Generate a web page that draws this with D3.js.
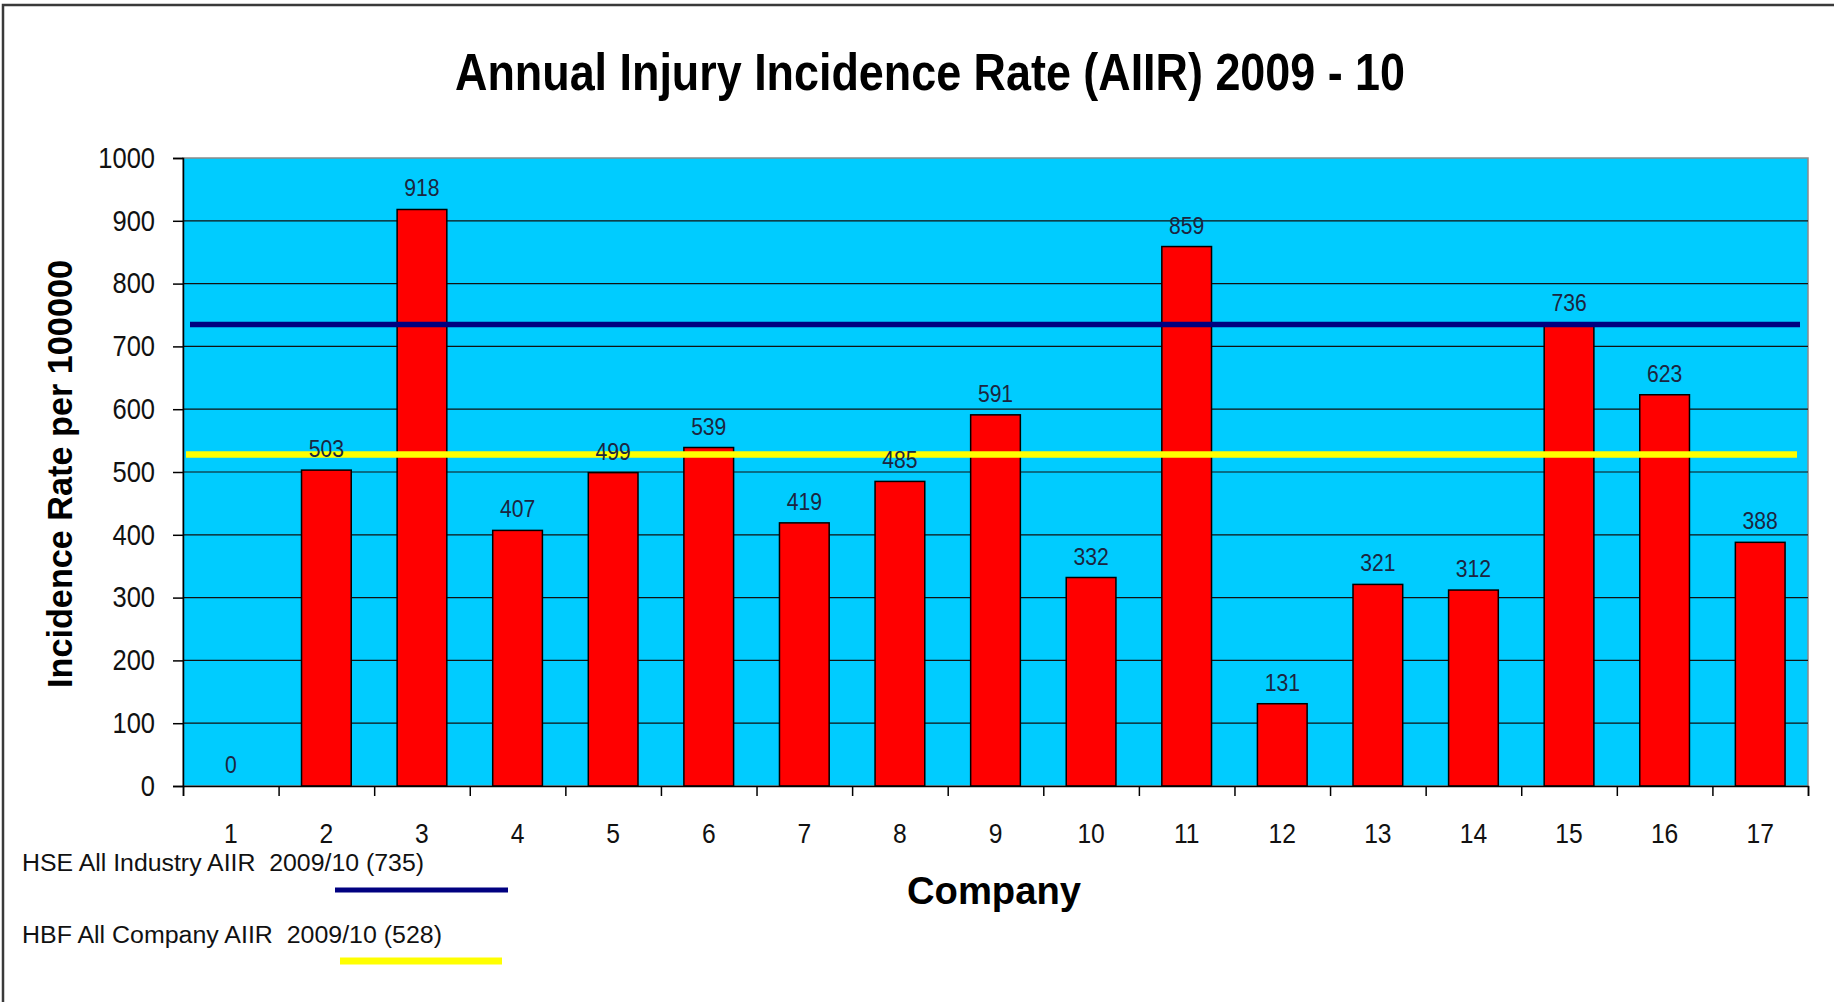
<html lang="en">
<head>
  <meta charset="UTF-8">
  <title>Annual Injury Incidence Rate (AIIR) 2009 - 10</title>
  <script src="https://d3js.org/d3.v7.min.js"></script>
  <style>
    body { margin: 0; background: #ffffff; }
    svg text { font-family: "Liberation Sans", Arial, sans-serif; }
    .grid line { stroke: #111111; stroke-width: 1.2px; }
    .axis path, .axis line { stroke: #000000; stroke-width: 1.5px; }
  </style>
</head>
<body>
  <svg id="chart"></svg>
  <script>
    // chart data
    const companies = ["1", "2", "3", "4", "5", "6", "7", "8", "9", "10", "11", "12", "13", "14", "15", "16", "17"];
    const rates = [0, 503, 918, 407, 499, 539, 419, 485, 591, 332, 859, 131, 321, 312, 736, 623, 388];
    const yTicks = [0, 100, 200, 300, 400, 500, 600, 700, 800, 900, 1000];
    const hseRate = 735;
    const hbfRate = 528;
    const hseLabel = "HSE All Industry AIIR  2009/10 (735)";
    const hbfLabel = "HBF All Company AIIR  2009/10 (528)";

    const width = 1834;
    const height = 1002;
    const margin = { top: 158, right: 26, bottom: 216, left: 183 };
    const squeeze = 0.88;

    const svg = d3.select("#chart")
      .attr("width", width)
      .attr("height", height);

    // outer frame (only the left and top edges show in the picture)
    svg.append("rect")
      .attr("x", 3).attr("y", 5)
      .attr("width", width + 20).attr("height", height + 20)
      .attr("fill", "none")
      .attr("stroke", "#3a3a3a")
      .attr("stroke-width", 2.5);

    const x = d3.scaleBand()
      .domain(companies)
      .range([margin.left, width - margin.right])
      .paddingInner(0.48)
      .paddingOuter(0.24);

    // linear scale across the slots, used for the boundary ticks
    const xSlots = d3.scaleLinear()
      .domain([0, companies.length])
      .range([margin.left, width - margin.right]);

    const y = d3.scaleLinear()
      .domain([0, 1000])
      .range([height - margin.bottom, margin.top]);

    // plot background
    svg.append("rect")
      .attr("x", margin.left)
      .attr("y", y(1000))
      .attr("width", width - margin.right - margin.left)
      .attr("height", y(0) - y(1000))
      .attr("fill", "#00ccff")
      .attr("stroke", "#8a8a8a")
      .attr("stroke-width", 1.5);

    // gridlines
    svg.append("g")
      .attr("class", "grid")
      .selectAll("line")
      .data(yTicks.filter(d => d > 0 && d < 1000))
      .enter()
      .append("line")
      .attr("x1", margin.left)
      .attr("x2", width - margin.right)
      .attr("y1", d => y(d))
      .attr("y2", d => y(d));

    // bars
    svg.append("g")
      .selectAll("rect")
      .data(rates)
      .enter()
      .append("rect")
      .attr("x", (d, i) => x(companies[i]))
      .attr("y", d => y(d))
      .attr("width", x.bandwidth())
      .attr("height", d => y(0) - y(d))
      .attr("fill", "#ff0000")
      .attr("stroke", "#000000")
      .attr("stroke-width", 1.5);

    // reference lines
    svg.append("line")
      .attr("x1", margin.left + 7)
      .attr("x2", width - margin.right - 8)
      .attr("y1", y(hseRate))
      .attr("y2", y(hseRate))
      .attr("stroke", "#000080")
      .attr("stroke-width", 5.5);

    svg.append("line")
      .attr("x1", margin.left + 3)
      .attr("x2", width - margin.right - 11)
      .attr("y1", y(hbfRate))
      .attr("y2", y(hbfRate))
      .attr("stroke", "#ffff00")
      .attr("stroke-width", 6.5);

    // y axis
    const yAxis = svg.append("g")
      .attr("class", "axis")
      .attr("transform", `translate(${margin.left},0)`)
      .call(d3.axisLeft(y).tickValues(yTicks).tickFormat(d3.format("d")).tickSize(10));
    yAxis.selectAll("text")
      .attr("font-size", 29)
      .attr("fill", "#111111")
      .attr("font-family", null)
      .attr("x", -28 / squeeze)
      .attr("transform", `scale(${squeeze},1)`);

    // x axis: ticks on slot boundaries, labels in slot centres
    svg.append("g")
      .attr("class", "axis")
      .attr("transform", `translate(0,${y(0)})`)
      .call(d3.axisBottom(xSlots).tickValues(d3.range(0, companies.length + 1)).tickSize(10).tickFormat(""));

    const xAxis = svg.append("g")
      .attr("class", "axis")
      .attr("transform", `translate(0,${y(0)})`)
      .call(d3.axisBottom(x).tickSize(0));
    xAxis.select(".domain").remove();
    xAxis.selectAll("text")
      .attr("font-size", 28)
      .attr("fill", "#111111")
      .attr("font-family", null)
      .attr("dy", 0)
      .attr("y", 57)
      .attr("transform", `scale(${squeeze},1)`)
      .attr("x", 0);

    // value labels
    svg.append("g")
      .selectAll("text")
      .data(rates)
      .enter()
      .append("text")
      .attr("transform", (d, i) => `translate(${x(companies[i]) + x.bandwidth() / 2},${y(d) - 13}) scale(${squeeze},1)`)
      .attr("text-anchor", "middle")
      .attr("font-size", 24)
      .attr("fill", "#1c2540")
      .text(d => d);

    // title
    svg.append("text")
      .attr("x", 930)
      .attr("y", 90)
      .attr("text-anchor", "middle")
      .attr("font-size", 52)
      .attr("font-weight", "bold")
      .attr("textLength", 950)
      .attr("lengthAdjust", "spacingAndGlyphs")
      .text("Annual Injury Incidence Rate (AIIR) 2009 - 10");

    // axis titles
    svg.append("text")
      .attr("transform", `translate(72,${(y(0) + y(1000)) / 2 + 2}) rotate(-90)`)
      .attr("text-anchor", "middle")
      .attr("font-size", 35)
      .attr("font-weight", "bold")
      .attr("textLength", 428)
      .attr("lengthAdjust", "spacingAndGlyphs")
      .text("Incidence Rate per 100000");

    svg.append("text")
      .attr("x", 994)
      .attr("y", 904)
      .attr("text-anchor", "middle")
      .attr("font-size", 39)
      .attr("font-weight", "bold")
      .attr("textLength", 174)
      .attr("lengthAdjust", "spacingAndGlyphs")
      .text("Company");

    // legend
    const legend = [
      { label: hseLabel, color: "#000080", textY: 871, lineY: 890, x1: 335, x2: 508, w: 5, len: 402 },
      { label: hbfLabel, color: "#ffff00", textY: 943, lineY: 961, x1: 340, x2: 502, w: 7, len: 420 }
    ];

    legend.forEach(l => {
      svg.append("text")
        .attr("x", 22)
        .attr("y", l.textY)
        .attr("font-size", 23)
        .attr("fill", "#111111")
        .attr("textLength", l.len)
        .attr("lengthAdjust", "spacingAndGlyphs")
        .style("white-space", "pre")
        .text(l.label);
      svg.append("line")
        .attr("x1", l.x1)
        .attr("x2", l.x2)
        .attr("y1", l.lineY)
        .attr("y2", l.lineY)
        .attr("stroke", l.color)
        .attr("stroke-width", l.w);
    });
  </script>
</body>
</html>
